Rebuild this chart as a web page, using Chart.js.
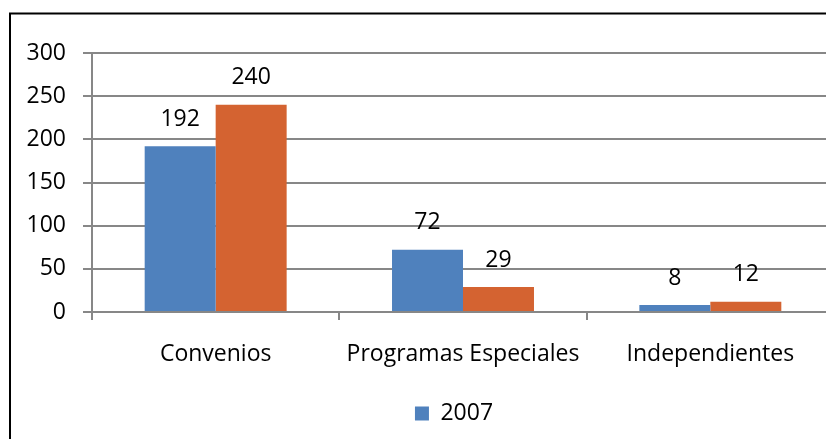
<!DOCTYPE html>
<html>
<head>
<meta charset="utf-8">
<script src="https://cdn.jsdelivr.net/npm/chart.js@4.4.1/dist/chart.umd.min.js"></script>
<style>
  html, body { margin: 0; padding: 0; background: #fff; overflow: hidden; }
  #grafico { display: block; }
</style>
</head>
<body>
<canvas id="grafico" width="908" height="460"></canvas>
<script>
const categorias = ['Convenios', 'Programas Especiales', 'Independientes'];
const valores2007 = [192, 72, 8];
const valores2008 = [240, 29, 12];
const ticksY = { min: 0, max: 300, paso: 50 };

const corGrade = '#878787';

// moldura preta do gráfico (estilo Excel)
const moldura = {
  id: 'moldura',
  beforeDraw(chart) {
    const c = chart.ctx;
    c.save();
    c.fillStyle = '#fff';
    c.fillRect(0, 0, chart.width, chart.height);
    c.strokeStyle = '#000';
    c.lineWidth = 2;
    c.strokeRect(10, 13.5, chart.width - 12, chart.height);
    c.restore();
  }
};

// rótulos com os valores acima das barras
const rotulos = {
  id: 'rotulos',
  afterDatasetsDraw(chart) {
    const c = chart.ctx;
    c.save();
    c.font = "23px 'Open Sans', sans-serif";
    c.fillStyle = '#000';
    c.textAlign = 'center';
    c.textBaseline = 'middle';
    chart.data.datasets.forEach((ds, i) => {
      chart.getDatasetMeta(i).data.forEach((bar, j) => {
        c.fillText(String(ds.data[j]), bar.x, bar.y - 27);
      });
    });
    c.restore();
  }
};

Chart.defaults.font.family = "'Open Sans', sans-serif";
Chart.defaults.font.size = 23;
Chart.defaults.color = '#000';

new Chart(document.getElementById('grafico'), {
  type: 'bar',
  data: {
    labels: categorias,
    datasets: [
      {
        label: '2007',
        data: valores2007,
        backgroundColor: '#4f81bd',
        categoryPercentage: 0.574,
        barPercentage: 1
      },
      {
        label: '2008',
        data: valores2008,
        backgroundColor: '#d46331',
        categoryPercentage: 0.574,
        barPercentage: 1
      }
    ]
  },
  options: {
    responsive: false,
    animation: false,
    layout: { padding: { top: 53, right: 0, left: 0, bottom: 25 } },
    plugins: {
      legend: {
        position: 'bottom',
        labels: {
          boxWidth: 14,
          boxHeight: 14,
          padding: 9,
          filter: item => item.datasetIndex === 0
        }
      },
      tooltip: { enabled: false }
    },
    scales: {
      x: {
        grid: { drawOnChartArea: false, color: corGrade, lineWidth: 2, tickLength: 8, offset: true },
        border: { color: corGrade, width: 2 },
        ticks: { padding: 21, maxRotation: 0 },
        afterFit(s) { s.height = 81; }
      },
      y: {
        min: ticksY.min,
        max: ticksY.max,
        ticks: { stepSize: ticksY.paso, padding: 17 },
        grid: { color: corGrade, lineWidth: 2, tickLength: 9 },
        border: { color: corGrade, width: 2 },
        afterFit(s) { s.width = 92; }
      },
      direita: {
        position: 'right',
        display: true,
        grid: { display: false },
        ticks: { display: false },
        border: { display: false },
        afterFit(s) { s.width = 74; }
      }
    }
  },
  plugins: [moldura, rotulos]
});
</script>
</body>
</html>
